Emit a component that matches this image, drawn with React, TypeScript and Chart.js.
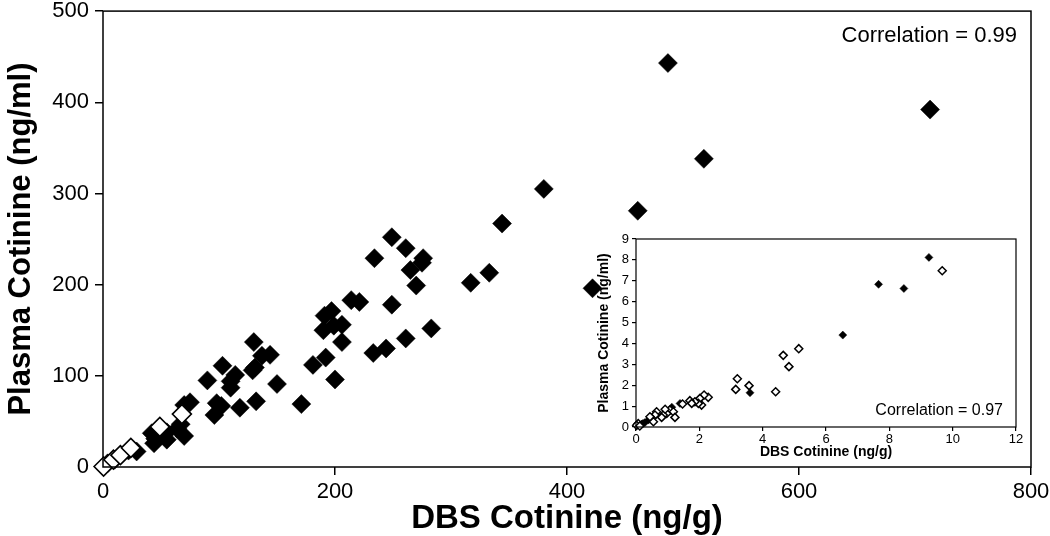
import React, { useEffect, useRef } from "react";
import { Chart, registerables } from "chart.js";
Chart.register(...registerables);

const FONT = "'Liberation Sans', Arial, Helvetica, sans-serif";

// ---- Main chart data (DBS cotinine ng/g vs plasma cotinine ng/ml) ----
const mainFilledX = [487, 713, 518, 380, 344, 461, 422, 317, 333, 261, 276, 275, 265, 270, 249, 234, 214, 221, 249, 197, 191, 190, 199, 206, 206, 192, 181, 200, 171, 233, 244, 261, 283, 130, 137, 144, 131, 129, 103, 90, 114, 110, 110, 150, 98, 102, 96, 118, 132, 75, 70, 67, 64, 70, 42, 45, 49, 55, 44, 55, 29, 22, 10, 4];
const mainFilledY = [443, 392, 338, 305, 267, 281, 196, 202, 213, 240, 229, 224, 216, 199, 252, 229, 183, 181, 178, 171, 166, 150, 155, 156, 137, 120, 112, 96, 69, 125, 130, 141, 152, 137, 122, 123, 109, 106, 111, 95, 101, 94, 87, 91, 70, 67, 57, 65, 72, 71, 68, 47, 42, 34, 37, 31, 35, 30, 26, 38, 17, 18, 8, 4];
const mainOpenX = [0.5, 9, 15, 24, 49, 68];
const mainOpenY = [0.5, 8, 13, 21, 44, 58];

// ---- Inset data ----
const insetFilledX = [9.25, 7.66, 8.46, 6.53, 3.6, 1.39, 1.13, 0.39, 0.28, 0.18, 0.22];
const insetFilledY = [8.12, 6.83, 6.63, 4.4, 1.64, 1.13, 0.95, 0.33, 0.21, 0.14, 0.17];
const insetOpenX = [9.67, 5.14, 4.65, 4.83, 4.41, 3.2, 3.57, 3.15, 2.28, 2.15, 2.02, 2.07, 1.97, 1.86, 1.7, 1.76, 1.47, 1.07, 1.18, 1.23, 0.97, 0.86, 0.92, 0.81, 0.65, 0.6, 0.5, 0.55, 0.44, 0.07, 0.02, 0.12];
const insetOpenY = [7.48, 3.75, 3.43, 2.89, 1.69, 2.31, 1.98, 1.8, 1.42, 1.53, 1.37, 1.05, 1.13, 1.21, 1.26, 1.13, 1.1, 0.81, 0.73, 0.46, 0.65, 0.57, 0.85, 0.46, 0.73, 0.57, 0.41, 0.25, 0.49, 0.17, 0.08, 0.05];

const mainXAxis = { min: 0, max: 800, step: 200, title: "DBS Cotinine (ng/g)" };
const mainYAxis = { min: 0, max: 500, step: 100, title: "Plasma Cotinine (ng/ml)" };
const insetXAxis = { min: 0, max: 12, step: 2, title: "DBS Cotinine (ng/g)" };
const insetYAxis = { min: 0, max: 9, step: 1, title: "Plasma Cotinine (ng/ml)" };
const mainCorrelation = "Correlation = 0.99";
const insetCorrelation = "Correlation = 0.97";

const toPoints = (xs: number[], ys: number[]) => xs.map((x, i) => ({ x, y: ys[i] }));

function framePlugin(lineWidth: number, label: string, labelFont: string, dx: number, dy: number, fromBottom: boolean) {
  return {
    id: "frame",
    afterDraw(chart: any) {
      const { ctx, chartArea } = chart;
      ctx.save();
      ctx.strokeStyle = "#000";
      ctx.lineWidth = lineWidth;
      ctx.strokeRect(chartArea.left, chartArea.top, chartArea.right - chartArea.left, chartArea.bottom - chartArea.top);
      ctx.fillStyle = "#000";
      ctx.font = labelFont;
      ctx.textAlign = "right";
      ctx.textBaseline = "middle";
      ctx.fillText(label, chartArea.right - dx, fromBottom ? chartArea.bottom - dy : chartArea.top + dy);
      ctx.restore();
    },
  };
}

function makeConfig(opts: any) {
  const { filled, open, xA, yA, radius, borderW, tickFont, titleFont, yTitleFont, tickLen, yWidth, xHeight, padding, yTitlePad, xTitlePad, yTickPad, xTickPad, frameW, label, labelFont, ldx, ldy, fromBottom } = opts;
  return {
    type: "scatter" as const,
    data: {
      datasets: [
        {
          label: "open",
          data: open,
          pointStyle: "rectRot",
          pointRadius: radius,
          pointHoverRadius: radius,
          backgroundColor: "#ffffff",
          borderColor: "#000000",
          pointBorderWidth: borderW,
          borderWidth: borderW,
          clip: false,
          order: 0,
        },
        {
          label: "filled",
          data: filled,
          pointStyle: "rectRot",
          pointRadius: radius,
          pointHoverRadius: radius,
          backgroundColor: "#000000",
          borderColor: "#000000",
          pointBorderWidth: 0.5,
          borderWidth: 0.5,
          clip: false,
          order: 1,
        },
      ],
    },
    options: {
      animation: false,
      responsive: true,
      maintainAspectRatio: false,
      devicePixelRatio: 1,
      layout: { padding },
      plugins: { legend: { display: false }, tooltip: { enabled: false } },
      events: [],
      scales: {
        x: {
          type: "linear",
          min: xA.min,
          max: xA.max,
          afterFit(scale: any) {
            scale.height = xHeight;
            scale.paddingLeft = 0;
            scale.paddingRight = 0;
          },
          ticks: { stepSize: xA.step, color: "#000", font: { family: FONT, size: tickFont }, padding: xTickPad, maxRotation: 0 },
          grid: { drawOnChartArea: false, drawTicks: true, tickLength: tickLen, color: "#000", lineWidth: frameW },
          border: { display: false },
          title: { display: true, text: xA.title, color: "#000", font: { family: FONT, size: titleFont, weight: "bold" }, padding: { top: 0, bottom: xTitlePad } },
        },
        y: {
          type: "linear",
          min: yA.min,
          max: yA.max,
          afterFit(scale: any) {
            scale.width = yWidth;
            scale.paddingTop = 0;
            scale.paddingBottom = 0;
          },
          ticks: { stepSize: yA.step, color: "#000", font: { family: FONT, size: tickFont }, padding: yTickPad },
          grid: { drawOnChartArea: false, drawTicks: true, tickLength: tickLen, color: "#000", lineWidth: frameW },
          border: { display: false },
          title: { display: true, text: yA.title, color: "#000", font: { family: FONT, size: yTitleFont, weight: "bold" }, padding: { top: yTitlePad, bottom: 0 } },
        },
      },
    },
    plugins: [framePlugin(frameW, label, labelFont, ldx, ldy, fromBottom)],
  };
}

export default function App() {
  const mainRef = useRef<HTMLCanvasElement | null>(null);
  const insetRef = useRef<HTMLCanvasElement | null>(null);

  useEffect(() => {
    if (!mainRef.current || !insetRef.current) return;
    const main = new Chart(
      mainRef.current,
      makeConfig({
        filled: toPoints(mainFilledX, mainFilledY),
        open: toPoints(mainOpenX, mainOpenY),
        xA: mainXAxis,
        yA: mainYAxis,
        radius: 9.5,
        borderW: 1.6,
        tickFont: 22,
        titleFont: 33,
        yTitleFont: 31,
        tickLen: 8,
        yWidth: 103,
        xHeight: 69,
        padding: { left: 0, right: 19, top: 8, bottom: 0 },
        yTitlePad: 3,
        xTitlePad: -3,
        yTickPad: 6,
        xTickPad: 4,
        frameW: 1.5,
        label: mainCorrelation,
        labelFont: `22px ${FONT}`,
        ldx: 14,
        ldy: 25,
        fromBottom: false,
      }) as any
    );
    const inset = new Chart(
      insetRef.current,
      makeConfig({
        filled: toPoints(insetFilledX, insetFilledY),
        open: toPoints(insetOpenX, insetOpenY),
        xA: insetXAxis,
        yA: insetYAxis,
        radius: 4,
        borderW: 1.5,
        tickFont: 13,
        titleFont: 14,
        yTitleFont: 14,
        tickLen: 4,
        yWidth: 46,
        xHeight: 39,
        padding: { left: 0, right: 14, top: 10, bottom: 0 },
        yTitlePad: 6,
        xTitlePad: 5,
        yTickPad: 3,
        xTickPad: 1,
        frameW: 1.2,
        label: insetCorrelation,
        labelFont: `16px ${FONT}`,
        ldx: 13,
        ldy: 16,
        fromBottom: true,
      }) as any
    );
    return () => {
      main.destroy();
      inset.destroy();
    };
  }, []);

  return (
    <div style={{ position: "absolute", left: 0, top: 0, width: 1050, height: 536, background: "#fff" }}>
      <div style={{ position: "absolute", left: 0, top: 0, width: 1050, height: 536 }}>
        <canvas ref={mainRef} />
      </div>
      <div style={{ position: "absolute", left: 590, top: 229, width: 440, height: 237 }}>
        <canvas ref={insetRef} />
      </div>
    </div>
  );
}
